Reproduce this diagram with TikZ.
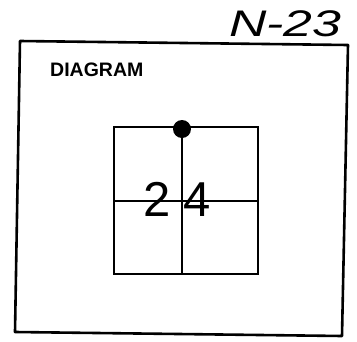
\documentclass[tikz,border=0pt]{standalone}
\usepackage{fontspec}
\setmainfont{Liberation Sans}
\usetikzlibrary{positioning}
\tikzset{
  frame/.style={draw, line width=2.6pt, line join=round},
  grid/.style={draw, line width=1.8pt},
  title/.style={inner sep=0pt, font=\fontsize{19.5}{20}\selectfont\bfseries},
  digit/.style={inner sep=0pt, font=\fontsize{49}{50}\selectfont},
  tag/.style={inner sep=0pt, xscale=1.4, font=\fontsize{37}{38}\selectfont\itshape},
}
\begin{document}
\begin{tikzpicture}[x=1pt, y=-1pt]
  \useasboundingbox (0,0) rectangle (357,341);
  % outer frame
  \coordinate (ftl) at (20,41);
  \coordinate (ftr) at (348,45);
  \coordinate (fbr) at (342,336);
  \coordinate (fbl) at (15,332);
  \draw[frame] (ftl) -- (ftr) -- (fbr) -- (fbl) -- cycle;
  % sheet number and heading
  \node[tag, anchor=base west] (sheet) at (229,36) {N-23};
  \node[title, anchor=base west] (head) at (50,76) {DIAGRAM};
  % grid
  \coordinate (gtl) at (114,127);
  \coordinate (gbr) at (258,274);
  \coordinate (top) at (182,127);
  \coordinate (bot) at (182,274);
  \coordinate (lft) at (114,201);
  \coordinate (rgt) at (258,201);
  \draw[grid] (gtl) rectangle (gbr);
  \draw[grid] (top) -- (bot);
  \draw[grid] (lft) -- (rgt);
  \fill ([yshift=-2pt]top) circle (9);
  \node[digit] (two) at (157.5,199.5) {2};
  \node[digit] (four) at (197,199.5) {4};
\end{tikzpicture}
\end{document}
